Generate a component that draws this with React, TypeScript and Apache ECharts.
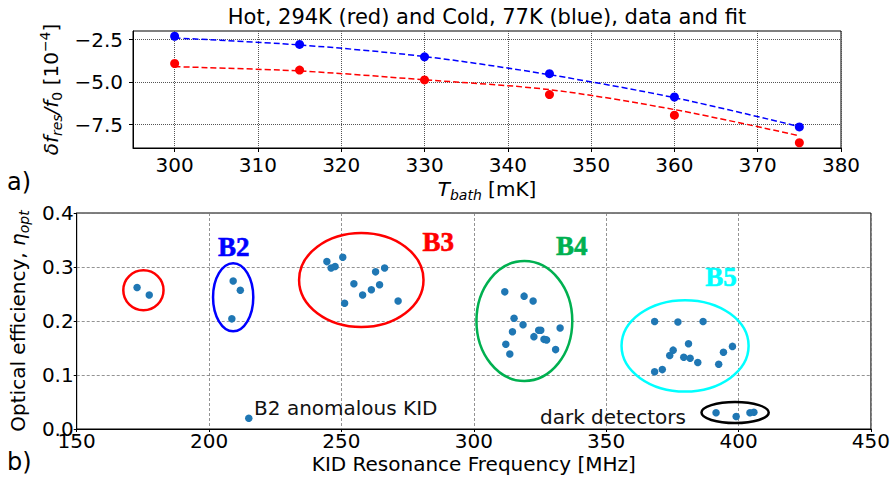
import React, { useEffect, useRef } from 'react';
import * as echarts from 'echarts';

// ---------- panel a) ----------
const tempsMK = [300, 315, 330, 345, 360, 375];
const coldData = [-2.31, -2.79, -3.52, -4.51, -5.88, -7.64];
const hotData = [-3.91, -4.3, -4.88, -5.74, -6.95, -8.57];
const coldFit = [-2.41, -2.82, -3.5, -4.57, -5.92, -7.62];
const hotFit = [-4.1, -4.35, -4.87, -5.45, -6.62, -8.16];
const topXTicks = [300, 310, 320, 330, 340, 350, 360, 370, 380];
const topYTicks = [-7.5, -5.0, -2.5];

// ---------- panel b) ----------
const freqMHz = [
  172.8, 177.4,
  209.1, 211.8, 208.6,
  215.0,
  244.5, 246.1, 247.6, 250.5, 254.7, 251.2, 258.0, 261.3, 262.9, 264.4, 266.3, 271.4,
  311.7, 319.0, 322.4, 315.2, 318.6, 314.6, 324.5, 325.3, 322.7, 326.5, 327.5, 332.6, 312.1, 313.6, 330.9,
  368.3, 377.1, 386.6, 381.1, 375.3, 374.0, 379.3, 381.7, 384.6, 368.3, 371.2, 392.5, 394.3, 397.7,
  391.5, 399.1, 404.3, 405.8,
];
const efficiency = [
  0.262, 0.248,
  0.274, 0.257, 0.204,
  0.02,
  0.31, 0.298, 0.301, 0.318, 0.269, 0.233, 0.248, 0.258, 0.291, 0.267, 0.298, 0.237,
  0.254, 0.246, 0.237, 0.205, 0.193, 0.18, 0.183, 0.183, 0.171, 0.166, 0.165, 0.187, 0.157, 0.139, 0.147,
  0.199, 0.198, 0.199, 0.158, 0.146, 0.136, 0.133, 0.131, 0.123, 0.106, 0.11, 0.12, 0.142, 0.153,
  0.03, 0.023, 0.03, 0.031,
];

// annotation ellipses (data units)
const ellipseCx = [175.2, 209.1, 257.5, 319.1, 379.8, 398.7];
const ellipseCy = [0.257, 0.244, 0.276, 0.2, 0.154, 0.0305];
const ellipseRx = [7.6, 7.6, 23.5, 18.1, 24.0, 12.7];
const ellipseRy = [0.037, 0.063, 0.087, 0.111, 0.0846, 0.0194];
const ellipseColors = ['#ff0000', '#0000ff', '#ff0000', '#00b050', '#00ffff', '#000000'];

// band labels
const bandNames = ['B2', 'B3', 'B4', 'B5'];
const bandX = [209.3, 286.6, 337.0, 393.4];
const bandY = [0.337, 0.346, 0.338, 0.282];
const bandColors = ['#0000ff', '#ff0000', '#00b050', '#00ffff'];

// text notes
const noteTexts = ['B2 anomalous KID', 'dark detectors'];
const noteX = [217.0, 325.0];
const noteY = [0.039, 0.0222];

const bottomXTicks = { min: 150, max: 450, interval: 50 };
const bottomYTicks = { min: 0, max: 0.4, interval: 0.1 };

const FONT = 'DejaVu Sans';

export default function App() {
  const ref = useRef<HTMLDivElement>(null);

  useEffect(() => {
    if (!ref.current) return;
    const chart = echarts.init(ref.current, null, { renderer: 'svg' });

    const tickLabel = { fontFamily: FONT, fontSize: 20, color: '#000', lineHeight: 18 };
    const minus = (v: number) => v.toFixed(1).replace('-', '\u2212');

    const option: any = {
      animation: false,
      textStyle: { fontFamily: FONT },
      grid: [
        { left: 133, top: 31, width: 708, height: 117, show: true, borderColor: '#000', borderWidth: 1 },
        { left: 72, top: 213, width: 799, height: 216, show: true, borderColor: '#000', borderWidth: 1 },
      ],
      xAxis: [
        {
          gridIndex: 0,
          type: 'value',
          min: 295,
          max: 380,
          axisLine: { show: true, onZero: false, lineStyle: { color: '#000', width: 1 } },
          axisTick: { show: true, length: 4, customValues: topXTicks, lineStyle: { color: '#000' } },
          axisLabel: { ...tickLabel, margin: 8, customValues: topXTicks, formatter: (v: number) => String(v) },
          splitLine: { show: true, lineStyle: { color: '#555', type: 'dotted', width: 1 } },
          name: '{it|T}{sub|bath}{n| [mK]}',
          nameLocation: 'middle',
          nameGap: 28,
          nameTextStyle: {
            rich: {
              it: { fontFamily: FONT, fontStyle: 'italic', fontSize: 20, color: '#000', lineHeight: 26 },
              sub: { fontFamily: FONT, fontStyle: 'italic', fontSize: 14, color: '#000', verticalAlign: 'bottom', lineHeight: 16 },
              n: { fontFamily: FONT, fontSize: 20, color: '#000', lineHeight: 26 },
            },
          },
        },
        {
          gridIndex: 1,
          type: 'value',
          min: bottomXTicks.min,
          max: bottomXTicks.max,
          interval: bottomXTicks.interval,
          axisLine: { show: true, onZero: false, lineStyle: { color: '#000', width: 1 } },
          axisTick: { show: true, length: 3, lineStyle: { color: '#000' } },
          axisLabel: { ...tickLabel, margin: 3 },
          splitLine: { show: true, lineStyle: { color: '#777', type: [3, 2], width: 0.8 } },
          name: 'KID Resonance Frequency [MHz]',
          nameLocation: 'middle',
          nameGap: 26,
          nameTextStyle: { fontFamily: FONT, fontSize: 20, color: '#000', lineHeight: 18 },
        },
      ],
      yAxis: [
        {
          gridIndex: 0,
          type: 'value',
          min: -8.88,
          max: -2.0,
          axisLine: { show: true, onZero: false, lineStyle: { color: '#000', width: 1 } },
          axisTick: { show: true, length: 4, customValues: topYTicks, lineStyle: { color: '#000' } },
          axisLabel: { ...tickLabel, margin: 10, customValues: topYTicks, formatter: (v: number) => minus(v) },
          splitLine: { show: true, lineStyle: { color: '#555', type: 'dotted', width: 1 } },
          name: '{it|\u03b4f}{sub|res}{it|/f}{sub0|0}{n| [10}{sup|\u22124}{n|]}',
          nameLocation: 'middle',
          nameGap: 51,
          nameTextStyle: {
            rich: {
              it: { fontFamily: FONT, fontStyle: 'italic', fontSize: 20, color: '#000', lineHeight: 26 },
              sub: { fontFamily: FONT, fontStyle: 'italic', fontSize: 14, color: '#000', verticalAlign: 'bottom', lineHeight: 16 },
              sub0: { fontFamily: FONT, fontSize: 14, color: '#000', verticalAlign: 'bottom', lineHeight: 16 },
              sup: { fontFamily: FONT, fontSize: 14, color: '#000', verticalAlign: 'top', lineHeight: 16 },
              n: { fontFamily: FONT, fontSize: 20, color: '#000', lineHeight: 26 },
            },
          },
        },
        {
          gridIndex: 1,
          type: 'value',
          min: bottomYTicks.min,
          max: bottomYTicks.max,
          interval: bottomYTicks.interval,
          axisLine: { show: true, onZero: false, lineStyle: { color: '#000', width: 1 } },
          axisTick: { show: true, length: 3, lineStyle: { color: '#000' } },
          axisLabel: { ...tickLabel, margin: 3, formatter: (v: number) => v.toFixed(1) },
          splitLine: { show: true, lineStyle: { color: '#777', type: [3, 2], width: 0.8 } },
          name: '{n|Optical efficiency, }{it|\u03b7}{sub|opt}',
          nameLocation: 'middle',
          nameGap: 35,
          nameTextStyle: {
            rich: {
              it: { fontFamily: FONT, fontStyle: 'italic', fontSize: 20, color: '#000', lineHeight: 26 },
              sub: { fontFamily: FONT, fontStyle: 'italic', fontSize: 14, color: '#000', verticalAlign: 'bottom', lineHeight: 16 },
              n: { fontFamily: FONT, fontSize: 20, color: '#000', lineHeight: 26 },
            },
          },
        },
      ],
      series: [
        {
          name: 'cold fit',
          type: 'line',
          xAxisIndex: 0,
          yAxisIndex: 0,
          data: tempsMK.map((t, i) => [t, coldFit[i]]),
          smooth: 0.3,
          showSymbol: false,
          symbol: 'none',
          lineStyle: { color: '#0000ff', width: 1.5, type: [6, 3] },
          z: 2,
        },
        {
          name: 'hot fit',
          type: 'line',
          xAxisIndex: 0,
          yAxisIndex: 0,
          data: tempsMK.map((t, i) => [t, hotFit[i]]),
          smooth: 0.3,
          showSymbol: false,
          symbol: 'none',
          lineStyle: { color: '#ff0000', width: 1.5, type: [6, 3] },
          z: 2,
        },
        {
          name: 'cold',
          type: 'scatter',
          xAxisIndex: 0,
          yAxisIndex: 0,
          data: tempsMK.map((t, i) => [t, coldData[i]]),
          symbolSize: 9,
          itemStyle: { color: '#0000ff', opacity: 1 },
          z: 3,
        },
        {
          name: 'hot',
          type: 'scatter',
          xAxisIndex: 0,
          yAxisIndex: 0,
          data: tempsMK.map((t, i) => [t, hotData[i]]),
          symbolSize: 9,
          itemStyle: { color: '#ff0000', opacity: 1 },
          z: 3,
        },
        {
          name: 'ellipses',
          type: 'custom',
          xAxisIndex: 1,
          yAxisIndex: 1,
          data: ellipseCx.map((cx, i) => [cx, ellipseCy[i], ellipseRx[i], ellipseRy[i], i]),
          renderItem: (params: any, api: any) => {
            const c = api.coord([api.value(0), api.value(1)]);
            const s = api.size([api.value(2), api.value(3)]);
            const color = ellipseColors[api.value(4)];
            return {
              type: 'ellipse',
              shape: { cx: c[0], cy: c[1], rx: s[0], ry: s[1] },
              style: { fill: 'none', stroke: color, lineWidth: 2.5 },
            };
          },
          z: 2,
        },
        {
          name: 'KIDs',
          type: 'scatter',
          xAxisIndex: 1,
          yAxisIndex: 1,
          data: freqMHz.map((f, i) => [f, efficiency[i]]),
          symbolSize: 7.5,
          itemStyle: { color: '#1f77b4', opacity: 1 },
          z: 3,
        },
        {
          name: 'bands',
          type: 'scatter',
          xAxisIndex: 1,
          yAxisIndex: 1,
          data: bandNames.map((n, i) => ({
            value: [bandX[i], bandY[i]],
            label: { color: bandColors[i], textBorderColor: bandColors[i] },
          })),
          symbolSize: 0,
          silent: true,
          itemStyle: { opacity: 1 },
          label: {
            show: true,
            position: 'inside',
            formatter: (p: any) => bandNames[p.dataIndex],
            fontFamily: 'Liberation Serif',
            fontWeight: 'bold',
            fontSize: 27,
            textBorderWidth: 0.6,
          },
          z: 4,
        },
        {
          name: 'notes',
          type: 'scatter',
          xAxisIndex: 1,
          yAxisIndex: 1,
          data: noteTexts.map((t, i) => [noteX[i], noteY[i]]),
          symbolSize: 0,
          silent: true,
          itemStyle: { opacity: 1 },
          label: {
            show: true,
            position: 'right',
            distance: 0,
            align: 'left',
            verticalAlign: 'middle',
            formatter: (p: any) => noteTexts[p.dataIndex],
            fontFamily: FONT,
            fontSize: 20,
            color: '#111',
          },
          z: 4,
        },
      ],
      graphic: [
        {
          type: 'text',
          x: 487,
          y: 17,
          style: {
            text: 'Hot, 294K (red) and Cold, 77K (blue), data and fit',
            align: 'center',
            verticalAlign: 'middle',
            fontFamily: FONT,
            fontSize: 21,
            fill: '#000',
          },
        },
        {
          type: 'text',
          x: 7,
          y: 182,
          style: { text: 'a)', align: 'left', verticalAlign: 'middle', fontFamily: FONT, fontSize: 24, fill: '#000' },
        },
        {
          type: 'text',
          x: 7,
          y: 462,
          style: { text: 'b)', align: 'left', verticalAlign: 'middle', fontFamily: FONT, fontSize: 24, fill: '#000' },
        },
      ],
    };

    chart.setOption(option);
    return () => chart.dispose();
  }, []);

  return (
    <div
      ref={ref}
      style={{ position: 'absolute', left: 0, top: 0, width: 893, height: 478, background: '#fff' }}
    />
  );
}
